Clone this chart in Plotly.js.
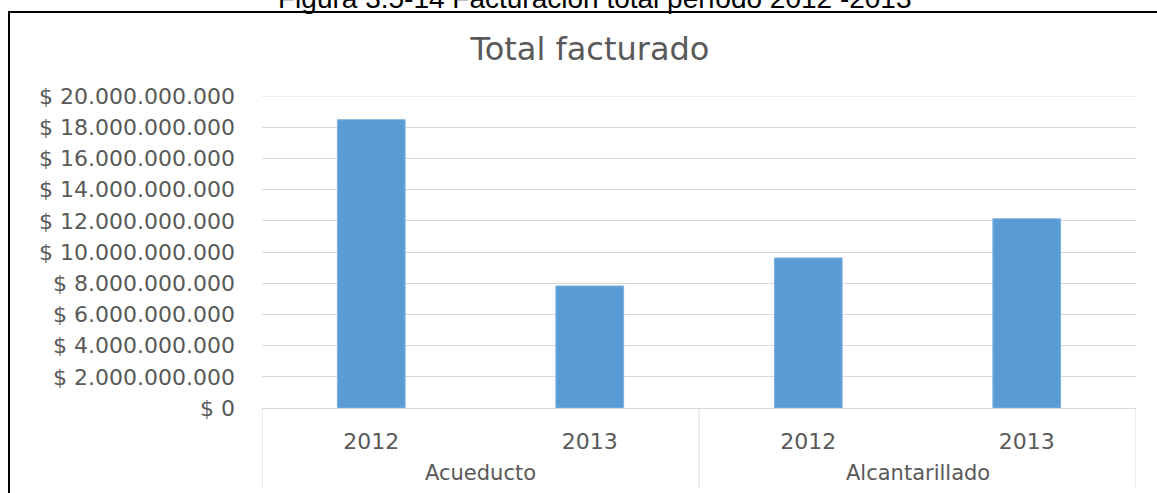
<!DOCTYPE html>
<html>
<head>
<meta charset="utf-8">
<script src="https://cdn.plot.ly/plotly-3.0.1.min.js"></script>
<style>
html,body{margin:0;padding:0;background:#fff;overflow:hidden;}
#chart{width:1157px;height:493px;}
</style>
</head>
<body>
<div id="chart"></div>
<script>
// Data
const groupNames = ["Acueducto", "Alcantarillado"];
const groups = ["Acueducto", "Acueducto", "Alcantarillado", "Alcantarillado"];
const years = ["2012", "2013", "2012", "2013"];
const values = [18480000000, 7820000000, 9620000000, 12130000000];
const tickVals = [0, 2e9, 4e9, 6e9, 8e9, 10e9, 12e9, 14e9, 16e9, 18e9, 20e9];
const tickText = ["$ 0", "$ 2.000.000.000", "$ 4.000.000.000", "$ 6.000.000.000", "$ 8.000.000.000",
  "$ 10.000.000.000", "$ 12.000.000.000", "$ 14.000.000.000", "$ 16.000.000.000",
  "$ 18.000.000.000", "$ 20.000.000.000"];
const figureCaption = "Figura 3.5-14 Facturación total período 2012 -2013";
const chartTitle = "Total facturado";

const W = 1157, H = 493;
const L = 262, R = 21, T = 96, B = 85;
const pw = W - L - R, ph = H - T - B;
const px2x = p => (p - L) / pw;
const py2y = p => (H - B - p) / ph;

const xPos = years.map((_, i) => i);

const trace = {
  type: "bar",
  x: xPos,
  y: values,
  customdata: groups,
  marker: {color: "#5b9bd5", line: {color: "#7fb1e0", width: 1}},
  hoverinfo: "skip"
};

// group label annotations and dividers computed from the groups array
const annotations = [];
const shapes = [];
let start = 0;
for (let i = 1; i <= groups.length; i++) {
  if (i === groups.length || groups[i] !== groups[start]) {
    annotations.push({
      text: groups[start], xref: "x", yref: "paper",
      x: (start + i - 1) / 2, y: py2y(473),
      xanchor: "center", yanchor: "middle", showarrow: false,
      font: {family: "DejaVu Sans, sans-serif", size: 21, color: "#595959"}
    });
    start = i;
  }
}
const dividers = [-0.5];
for (let i = 1; i < groups.length; i++) if (groups[i] !== groups[i - 1]) dividers.push(i - 0.5);
dividers.push(groups.length - 0.5);
dividers.forEach(d => shapes.push({
  type: "line", xref: "x", yref: "paper", x0: d, x1: d, y0: py2y(408), y1: py2y(488),
  line: {color: "#d9d9d9", width: 1}
}));
// top gridline at $20.000.000.000
shapes.push({type: "line", xref: "paper", yref: "y", x0: 0, x1: 1, y0: tickVals[tickVals.length - 1], y1: tickVals[tickVals.length - 1],
  line: {color: "#d9d9d9", width: 1}, layer: "below"});
// outer frame
shapes.push({
  type: "rect", xref: "paper", yref: "paper",
  x0: px2x(9), x1: px2x(1175), y0: py2y(520), y1: py2y(12),
  line: {color: "#000000", width: 2}, fillcolor: "rgba(0,0,0,0)", layer: "below"
});
annotations.push({
  text: figureCaption,
  xref: "paper", yref: "paper",
  x: px2x(595), y: py2y(-2),
  xanchor: "center", yanchor: "middle",
  showarrow: false,
  font: {family: "Liberation Sans, Arial, sans-serif", size: 28, color: "#000000"}
});

const layout = {
  width: W, height: H,
  margin: {l: L, r: R, t: T, b: B, pad: 0},
  paper_bgcolor: "#ffffff",
  plot_bgcolor: "#ffffff",
  showlegend: false,
  bargap: 0.69,
  font: {family: "DejaVu Sans, sans-serif", color: "#595959"},
  title: {
    text: chartTitle,
    font: {family: "DejaVu Sans, sans-serif", size: 32, color: "#595959"},
    xref: "container", x: 590 / W, xanchor: "center",
    yref: "container", y: 1 - 49 / H, yanchor: "middle"
  },
  xaxis: {
    range: [-0.5, groups.length - 0.5],
    tickvals: xPos,
    ticktext: years,
    tickfont: {size: 22, color: "#595959"},
    ticklabelstandoff: 14,
    showgrid: false,
    showline: true, linecolor: "#d9d9d9", linewidth: 1,
    ticks: "",
    zeroline: false
  },
  yaxis: {
    range: [0, 20e9],
    tickvals: tickVals,
    ticktext: tickText,
    tickfont: {size: 22, color: "#595959"},
    ticklabelstandoff: 26,
    showgrid: true, gridcolor: "#d9d9d9", gridwidth: 1,
    zeroline: false,
    showline: false,
    ticks: ""
  },
  shapes: shapes,
  annotations: annotations
};

Plotly.newPlot("chart", [trace], layout, {staticPlot: true, displayModeBar: false});
</script>
</body>
</html>
